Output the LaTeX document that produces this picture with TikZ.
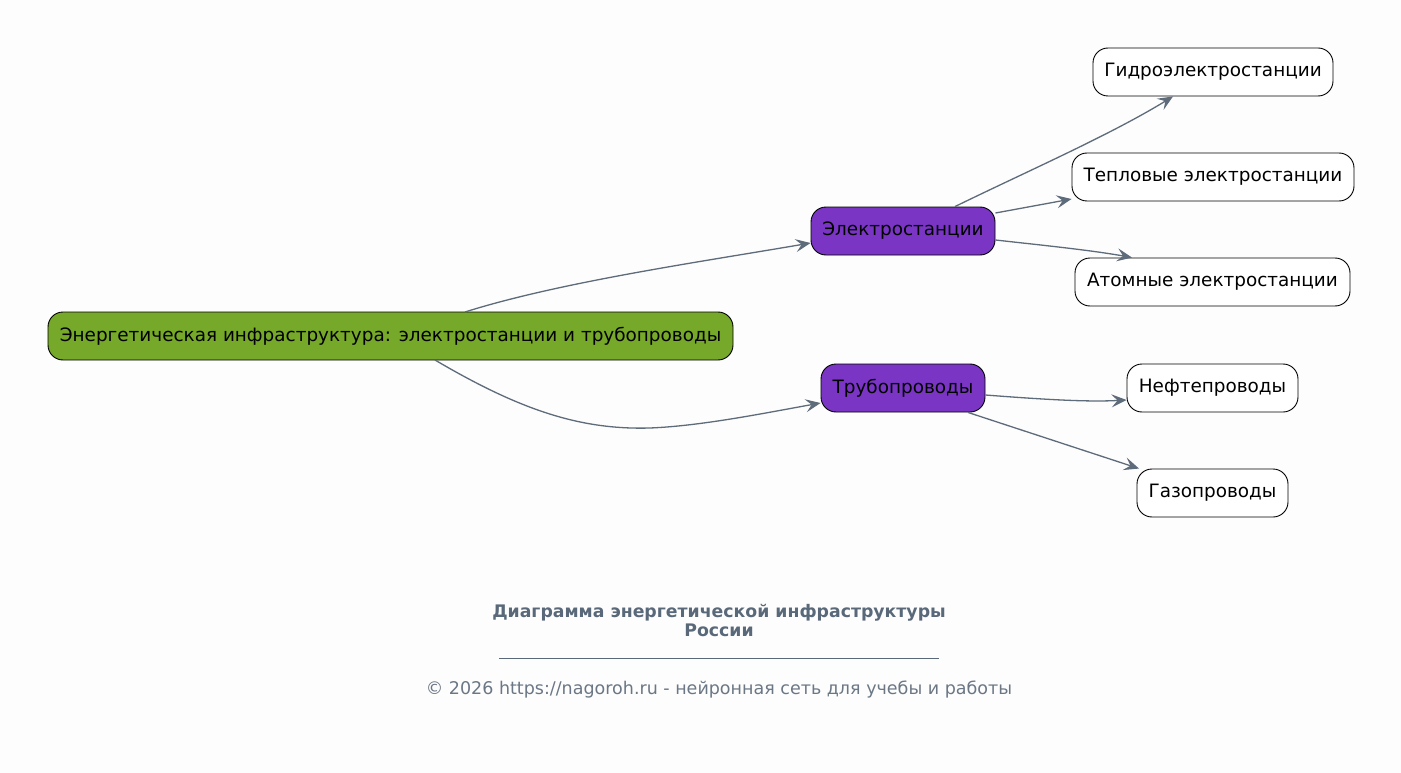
\documentclass[tikz,border=0pt]{standalone}
\usepackage{fontspec}
\setmainfont{DejaVu Sans}
\usetikzlibrary{arrows.meta}
\definecolor{bg}{RGB}{253,253,253}
\definecolor{rootc}{RGB}{118,168,42}
\definecolor{midc}{RGB}{123,53,197}
\definecolor{edgec}{RGB}{94,107,122}
\definecolor{titlec}{RGB}{90,105,122}
\definecolor{copyc}{RGB}{107,119,133}
\tikzset{
  box/.style={draw=black, line width=0.9pt, rounded corners=15pt, minimum height=48pt, inner sep=0pt, font=\fontsize{18.4}{22}\selectfont, text=black},
  rootbox/.style={box, fill=rootc},
  midbox/.style={box, fill=midc},
  leafbox/.style={box, fill=white},
  conn/.style={draw=edgec, line width=1.3pt, -{Stealth[length=15pt, width=13pt, inset=6pt]}},
}
\begin{document}
\begin{tikzpicture}[x=1pt, y=-1pt]
\fill[bg] (0,0) rectangle (1401,773);
\useasboundingbox (0,0) rectangle (1401,773);

\node[rootbox, minimum width=685pt] (root) at (390.5,336) {Энергетическая инфраструктура: электростанции и трубопроводы};
\node[midbox, minimum width=184pt] (es) at (903,231) {Электростанции};
\node[midbox, minimum width=164pt] (tp) at (903,388) {Трубопроводы};
\node[leafbox, minimum width=240pt] (ges) at (1213,72) {Гидроэлектростанции};
\node[leafbox, minimum width=282pt] (tes) at (1213,177) {Тепловые электростанции};
\node[leafbox, minimum width=275pt] (aes) at (1212.5,282) {Атомные электростанции};
\node[leafbox, minimum width=171pt] (neft) at (1212.5,388) {Нефтепроводы};
\node[leafbox, minimum width=151pt] (gaz) at (1212.5,493) {Газопроводы};

\coordinate (r1) at (465,312);
\coordinate (r2) at (435,360);
\draw[conn] (r1) .. controls (560,282) and (700,262) .. (es.west |- 0,243);
\draw[conn] (r2) .. controls (520,410) and (580,430) .. (650,428) .. controls (700,426) and (760,414) .. (tp.west |- 0,403);
\draw[conn] (es.north -| 955,0) .. controls (1030,170) and (1110,135) .. (ges.south -| 1173,0);
\draw[conn] (es.east |- 0,213) -- (tes.west |- 0,199);
\draw[conn] (es.east |- 0,240) .. controls (1040,245) and (1090,250) .. (aes.north -| 1132,0);
\draw[conn] (tp.east |- 0,395) .. controls (1050,400) and (1090,402) .. (neft.west |- 0,400);
\draw[conn] (tp.south -| 968,0) -- (gaz.north -| 1139,0);

\node[font=\fontsize{17.3}{19}\selectfont\bfseries, text=titlec, align=center] (title) at (719,620.5) {Диаграмма энергетической инфраструктуры\\России};
\coordinate (la) at (499,658);
\coordinate (lb) at (939,658);
\draw[titlec, line width=0.8pt] (la) -- (lb);
\node[font=\fontsize{17.5}{19}\selectfont, text=copyc] (copy) at (719,689.5) {© 2026 https://nagoroh.ru - нейронная сеть для учебы и работы};
\end{tikzpicture}
\end{document}
